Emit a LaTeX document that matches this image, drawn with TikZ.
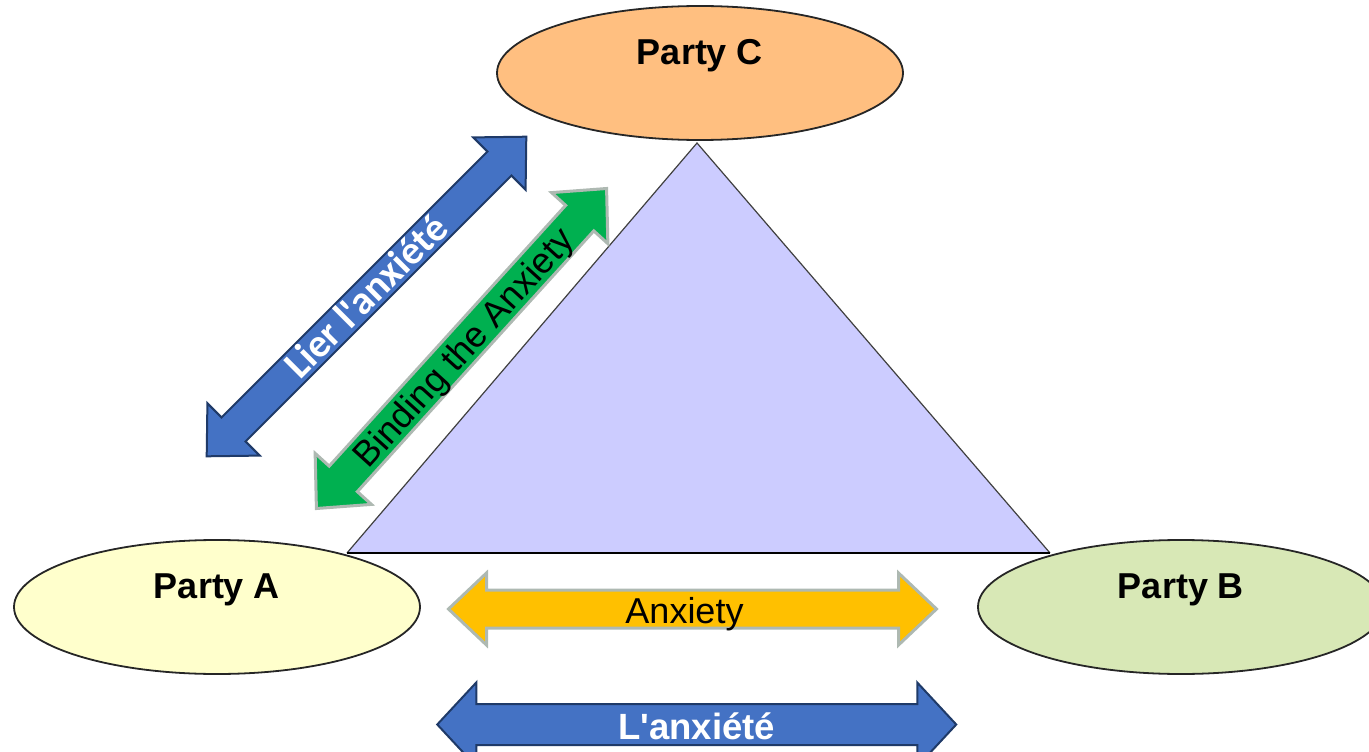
\documentclass[tikz,border=0pt]{standalone}
\usepackage{fontspec}
\setmainfont{Liberation Sans}
\newfontfamily\calibrifont{Carlito}
\usepackage{tikz}
\usetikzlibrary{shapes.geometric,calc}
\definecolor{colC}{HTML}{FFBF80}
\definecolor{colA}{HTML}{FFFFCC}
\definecolor{colB}{HTML}{D8E8B6}
\definecolor{colTri}{HTML}{CCCCFF}
\definecolor{blueFill}{HTML}{4472C4}
\definecolor{blueEdge}{HTML}{1F3A68}
\definecolor{greenFill}{HTML}{00B050}
\definecolor{yellowFill}{HTML}{FFC000}
\definecolor{softEdge}{HTML}{AEB9B2}
\tikzset{
  party/.style={ellipse,draw=black!85,line width=1.8pt,minimum width=406pt,
    minimum height=134pt,inner sep=0pt},
  plabel/.style={font=\bfseries\fontsize{36}{40}\selectfont,text height=26pt,
    text depth=0pt,inner sep=0pt},
  bluearrow/.style={fill=blueFill,draw=blueEdge,line width=2pt},
  greenarrow/.style={fill=greenFill,draw=softEdge,line width=3pt},
  yellowarrow/.style={fill=yellowFill,draw=softEdge,line width=3pt},
}
% #1 style, #2 half length, #3 half shaft, #4 half head, #5 head length
\newcommand{\blockarrow}[5]{%
  \draw[#1] (-#2,0) -- (-#2+#5,#4) -- (-#2+#5,#3) -- (#2-#5,#3) -- (#2-#5,#4)
    -- (#2,0) -- (#2-#5,-#4) -- (#2-#5,-#3) -- (-#2+#5,-#3) -- (-#2+#5,-#4) -- cycle;
}

\begin{document}
\begin{tikzpicture}[x=1pt,y=-1pt]
\useasboundingbox (0,0) rectangle (1369,752);
% the three parties
\node[party,fill=colC] (partyC) at (700,73) {};
\node[party,fill=colA] (partyA) at (217,607) {};
\node[party,fill=colB] (partyB) at (1181,607) {};
\node[plabel] (labC) at ([yshift=21pt]partyC.center) {Party C};
\node[plabel] (labA) at ([yshift=22pt]partyA.center) {Party A};
\node[plabel] (labB) at ([yshift=22pt]partyB.center) {Party B};
% triangle
\coordinate (apex) at (697,143);
\coordinate (baseL) at (347,553);
\coordinate (baseR) at (1050,553);
\filldraw[fill=colTri,draw=black!75,line width=1.2pt] (baseL) -- (apex) -- (baseR);
\draw[line width=2.5pt] (baseL) -- (baseR);
% block arrows
\begin{scope}[shift={(366.5,296.5)},rotate=45]
  \blockarrow{bluearrow}{226}{17}{37}{38}
  \node[font=\calibrifont\bfseries\fontsize{40}{44}\selectfont,text=white,
    text height=26pt,text depth=0pt,rotate=45] (lier) at (0,0) {Lier l\textquotesingle anxiété};
\end{scope}
\begin{scope}[shift={(461.5,348.5)},rotate=47.8]
  \blockarrow{greenarrow}{216}{19}{38}{40}
  \node[font=\fontsize{36}{40}\selectfont,text height=26pt,text depth=0pt,
    rotate=47.8] (binding) at (2,0) {Binding the Anxiety};
\end{scope}
\begin{scope}[shift={(692.5,609)}]
  \blockarrow{yellowarrow}{244}{19}{36}{38}
  \node[font=\fontsize{36}{40}\selectfont,text height=26pt,text depth=0pt]
    (anx) at (-8,1) {Anxiety};
\end{scope}
\begin{scope}[shift={(696.75,724.5)}]
  \blockarrow{bluearrow}{259.5}{20.5}{42}{39}
  \node[font=\bfseries\fontsize{36.5}{40}\selectfont,text=white,text height=26pt,
    text depth=0pt] (lanx) at (0,1.5) {L\textquotesingle anxiété};
\end{scope}
\end{tikzpicture}
\end{document}
